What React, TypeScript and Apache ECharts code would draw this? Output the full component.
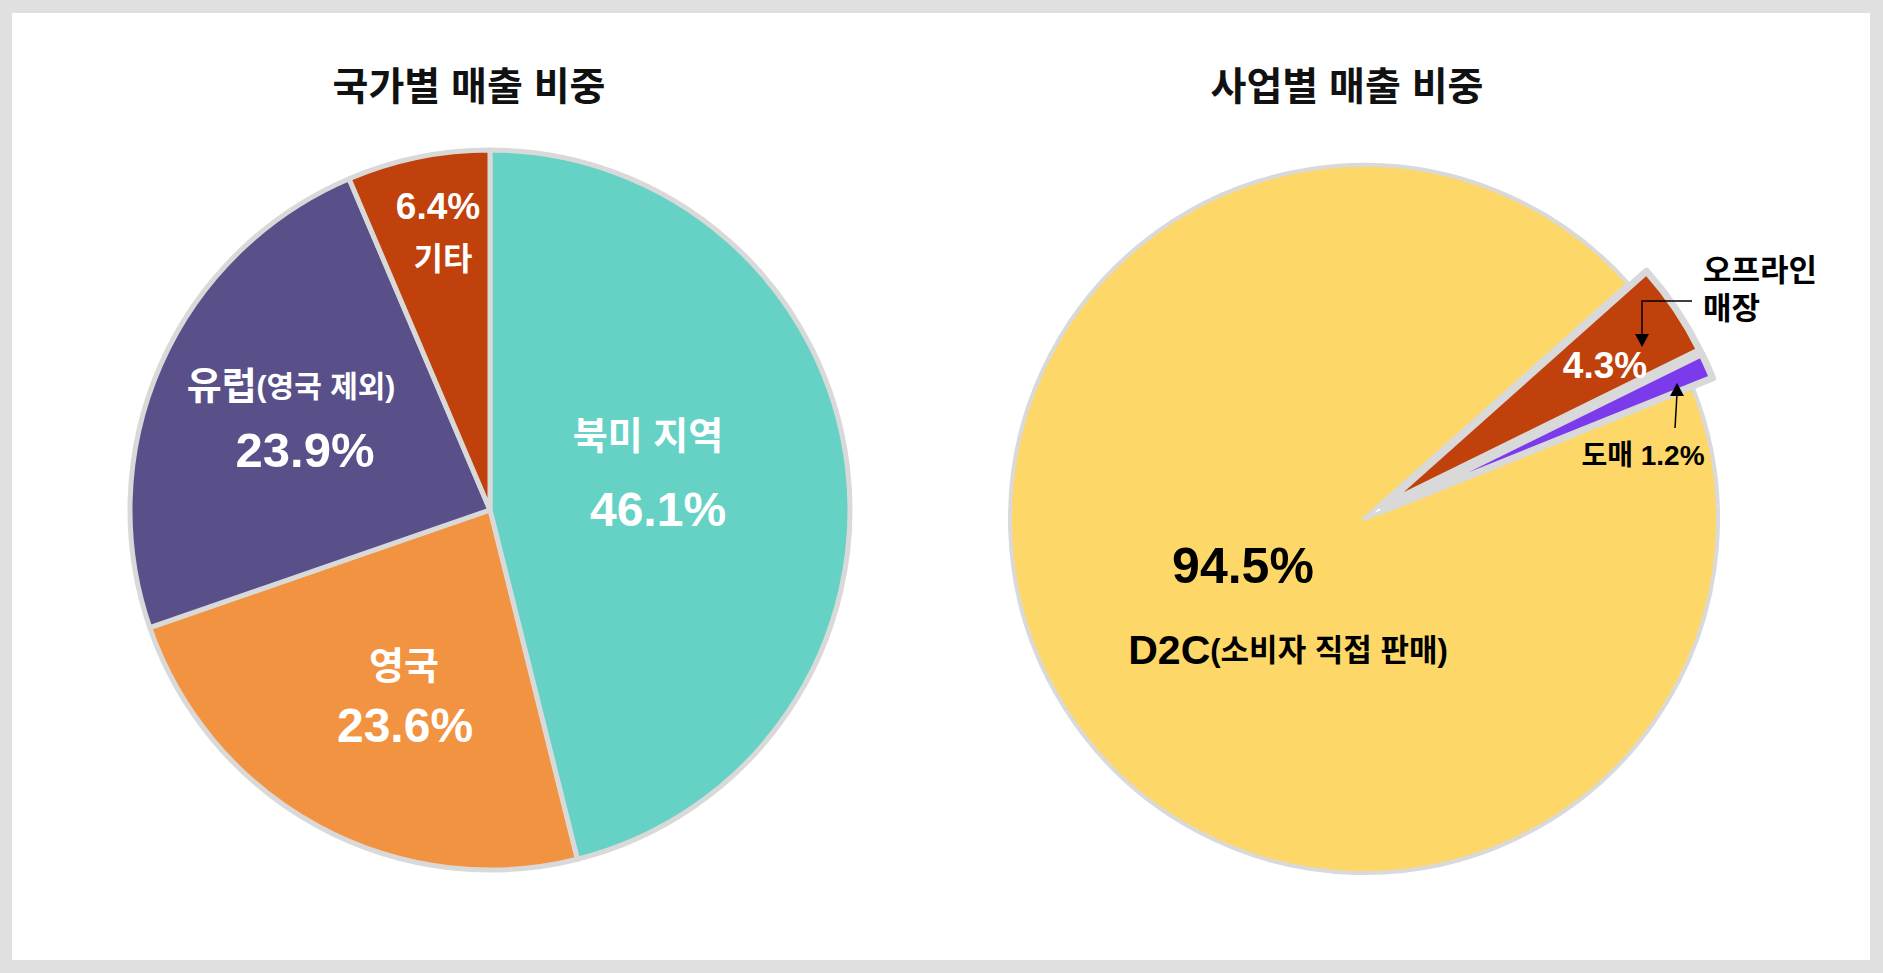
import React, { useEffect, useRef } from "react";
import * as echarts from "echarts";

// ---- data ----
const regionTitle = "국가별 매출 비중";
const regionNames = ["북미 지역", "영국", "유럽(영국 제외)", "기타"];
const regionValues = [46.1, 23.6, 23.9, 6.4];

const channelTitle = "사업별 매출 비중";
const channelNames = ["D2C(소비자 직접 판매)", "오프라인 매장", "도매"];
const channelValues = [94.5, 4.3, 1.2];
const channelExploded = [false, true, true];

// ---- styles ----
const regionColors = ["#66D2C5", "#F19340", "#59508A", "#C1410C"];
const channelColors = ["#FDD868", "#C1410C", "#7C3AED"];
const BORDER = "#D9D9D9";
const FONT = "'Liberation Sans', 'Noto Sans CJK KR', sans-serif";

const pct = (v: number) => `${v}%`;

function txt(text: string, x: number, y: number, size: number, color: string, align = "center") {
  return {
    type: "text",
    x,
    y,
    silent: true,
    z: 100,
    style: {
      text,
      font: `bold ${size}px ${FONT}`,
      fill: color,
      align,
      verticalAlign: "middle",
      textAlign: align,
      textVerticalAlign: "middle",
    },
  };
}

function richTxt(main: string, sub: string, x: number, y: number, s1: number, s2: number, color: string) {
  return {
    type: "text",
    x,
    y,
    silent: true,
    z: 100,
    style: {
      text: `{a|${main}}{b|${sub}}`,
      rich: {
        a: { font: `bold ${s1}px ${FONT}`, fill: color },
        b: { font: `bold ${s2}px ${FONT}`, fill: color },
      },
      align: "center",
      verticalAlign: "middle",
      textAlign: "center",
      textVerticalAlign: "middle",
    },
  };
}

export default function App() {
  const ref = useRef<HTMLDivElement>(null);

  useEffect(() => {
    if (!ref.current) return;
    const chart = echarts.init(ref.current, undefined, { renderer: "svg" });

    const [euMain, euSub] = [
      regionNames[2].slice(0, regionNames[2].indexOf("(")),
      regionNames[2].slice(regionNames[2].indexOf("(")),
    ];
    const [d2cMain, d2cSub] = [
      channelNames[0].slice(0, channelNames[0].indexOf("(")),
      channelNames[0].slice(channelNames[0].indexOf("(")),
    ];
    const offlineParts = channelNames[1].split(" ");

    const graphics: any[] = [
      txt(regionTitle, 469, 86, 39, "#111111"),
      txt(channelTitle, 1347, 86, 39, "#111111"),
      // left pie labels
      txt(regionNames[0], 648, 436, 38, "#FFFFFF"),
      txt(pct(regionValues[0]), 658, 509, 48, "#FFFFFF"),
      txt(regionNames[1], 404, 666, 38, "#FFFFFF"),
      txt(pct(regionValues[1]), 405, 725, 48, "#FFFFFF"),
      richTxt(euMain, euSub, 291, 386, 38, 30, "#FFFFFF"),
      txt(pct(regionValues[2]), 305, 450, 49, "#FFFFFF"),
      txt(pct(regionValues[3]), 438, 206, 37, "#FFFFFF"),
      txt(regionNames[3], 443, 259, 32, "#FFFFFF"),
      // right pie labels
      txt(pct(channelValues[0]), 1243, 566, 50, "#000000"),
      richTxt(d2cMain, d2cSub, 1288, 650, 41, 31, "#000000"),
      txt(pct(channelValues[1]), 1605, 365, 37, "#FFFFFF"),
      txt(offlineParts[0], 1703, 270, 31, "#000000", "left"),
      txt(offlineParts[1], 1703, 308, 31, "#000000", "left"),
      txt(`${channelNames[2]} ${pct(channelValues[2])}`, 1643, 455, 28, "#000000"),
      // arrows
      {
        type: "polyline",
        silent: true,
        z: 100,
        shape: { points: [[1692, 301], [1642, 301], [1642, 336]] },
        style: { stroke: "#000000", lineWidth: 1.5, fill: null },
      },
      {
        type: "polygon",
        silent: true,
        z: 100,
        shape: { points: [[1635, 334], [1649, 334], [1642, 347]] },
        style: { fill: "#000000" },
      },
      {
        type: "line",
        silent: true,
        z: 100,
        shape: { x1: 1675, y1: 428, x2: 1677, y2: 394 },
        style: { stroke: "#000000", lineWidth: 1.5 },
      },
      {
        type: "polygon",
        silent: true,
        z: 100,
        shape: { points: [[1670, 396], [1684, 396], [1677, 383]] },
        style: { fill: "#000000" },
      },
    ];

    chart.setOption({
      animation: false,
      backgroundColor: "transparent",
      series: [
        {
          type: "pie",
          center: [490, 510],
          radius: 360,
          startAngle: 90,
          clockwise: true,
          silent: true,
          label: { show: false },
          labelLine: { show: false },
          emphasis: { disabled: true },
          itemStyle: { borderColor: BORDER, borderWidth: 5 },
          data: regionNames.map((n, i) => ({
            name: n,
            value: regionValues[i],
            itemStyle: { color: regionColors[i] },
          })),
        },
        {
          type: "pie",
          center: [1364, 519],
          radius: 354,
          startAngle: 21.9,
          clockwise: true,
          silent: true,
          selectedMode: "multiple",
          selectedOffset: 22,
          label: { show: false },
          labelLine: { show: false },
          emphasis: { disabled: true },
          itemStyle: { borderColor: BORDER, borderWidth: 4 },
          data: channelNames.map((n, i) => ({
            name: n,
            value: channelValues[i],
            selected: channelExploded[i],
            itemStyle: {
              color: channelColors[i],
              borderWidth: channelExploded[i] ? 7 : 4,
            },
          })),
        },
      ],
      graphic: graphics,
    });

    return () => chart.dispose();
  }, []);

  return (
    <div
      style={{
        position: "fixed",
        left: 0,
        top: 0,
        width: 1883,
        height: 973,
        background: "#E0E0E0",
      }}
    >
      <div
        style={{
          position: "absolute",
          left: 12,
          top: 13,
          width: 1858,
          height: 947,
          background: "#FFFFFF",
        }}
      />
      <div ref={ref} style={{ position: "absolute", left: 0, top: 0, width: 1883, height: 973 }} />
    </div>
  );
}
